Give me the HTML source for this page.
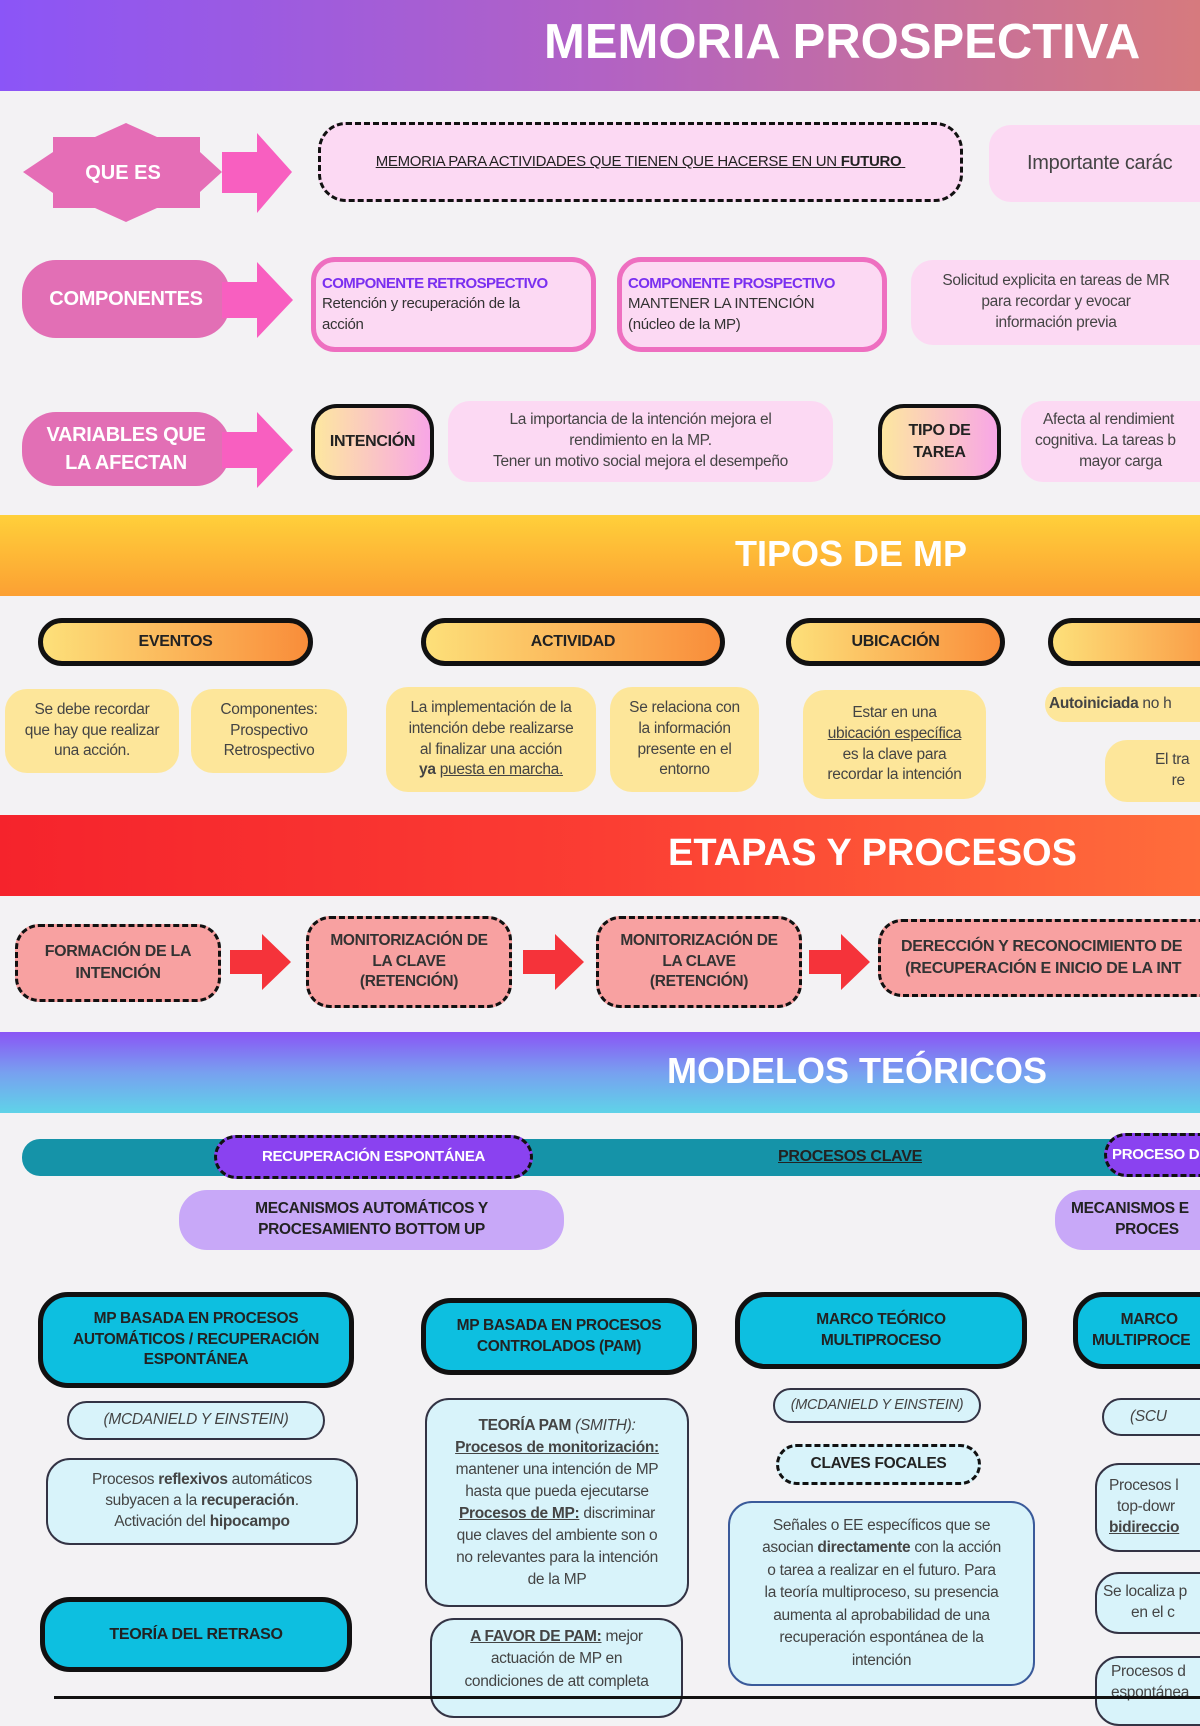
<!DOCTYPE html>
<html><head><meta charset="utf-8">
<style>
*{box-sizing:border-box;margin:0;padding:0}
body{width:1200px;height:1700px;background:#f3f2f4;position:relative;overflow:hidden;font-family:"Liberation Sans",sans-serif;color:#333}
.a{position:absolute}
.b{position:absolute;display:flex;align-items:center;justify-content:center;text-align:center;flex-direction:column;overflow:hidden;line-height:1.35;letter-spacing:-0.3px}
.hd{position:absolute;left:0;width:1200px;color:#fff;font-weight:bold;font-family:"Liberation Sans",sans-serif}
.hd span{position:absolute;white-space:nowrap}
.lp{background:#fcd9f3;border-radius:22px;font-size:16px;color:#444}
.cmp{background:#fcd9f3;border:5px solid #ee6fc0;border-radius:24px;align-items:flex-start;text-align:left;padding:0 6px;font-size:15px;color:#333;white-space:nowrap}
.cmp b{color:#7a2ff0;letter-spacing:-0.6px}
.pk{background:#e26fb5;color:#fff;font-weight:bold;font-size:20px;border-radius:34px}
.yg{background:linear-gradient(to right,#fde7a0,#f8a6e6);border:4px solid #111;border-radius:26px;font-weight:bold;font-size:16px;color:#222}
.yp{background:linear-gradient(to right,#fde07a,#f98d3a);border:5px solid #111;border-radius:26px;font-weight:bold;font-size:16px;color:#222}
.yb{background:#fde69a;border-radius:22px;font-size:15.5px;color:#444}
.st{background:#f8a1a1;border:3px dashed #111;border-radius:24px;font-weight:bold;font-size:16px;color:#333}
.cy{background:#0dbfe0;border:5px solid #111;border-radius:30px;font-weight:bold;font-size:16px;color:#222}
.lc{background:#d8f3fa;border:2px solid #334;border-radius:24px;font-size:15.5px;color:#444}
.u{text-decoration:underline}
</style></head><body>

<div class="hd" style="top:0;height:91px;background:linear-gradient(to right,#8b55f7,#b262c4 50%,#d67a7e)"><span style="left:544px;top:14px;font-size:49px">MEMORIA PROSPECTIVA</span></div>

<svg class="a" style="left:0;top:110px" width="300" height="120" viewBox="0 110 300 120">
<polygon fill="#e56db6" points="23,172 53,152 53,137 95,137 126,123 157,137 200,137 200,152 222,172 200,192 200,208 157,208 126,222 95,208 53,208 53,193"/>
<polygon fill="#f85fc0" points="222,152 257,152 257,133 292,172 257,213 257,193 222,193"/>
<text x="123" y="179" fill="#fff" font-family="Liberation Sans" font-weight="bold" font-size="20" text-anchor="middle">QUE ES</text>
</svg>
<div class="b" style="left:318px;top:122px;width:645px;height:80px;background:#fcd9f3;border:3px dashed #111;border-radius:28px;font-size:15px;color:#222"><span class="u">MEMORIA PARA ACTIVIDADES QUE TIENEN QUE HACERSE EN UN <b>FUTURO</b>&nbsp;</span></div>
<div class="b lp" style="left:989px;top:125px;width:240px;height:77px;align-items:flex-start;padding-left:38px;font-size:20px;white-space:nowrap">Importante carác</div>

<div class="b pk" style="left:22px;top:260px;width:208px;height:78px">COMPONENTES</div>
<svg class="a" style="left:222px;top:262px" width="72" height="76"><polygon fill="#f85fc0" points="0,20 35,20 35,0 71,38 35,76 35,56 0,56"/></svg>
<div class="b cmp" style="left:311px;top:257px;width:285px;height:95px"><div><b>COMPONENTE RETROSPECTIVO</b><br>Retención y recuperación de la<br>acción</div></div>
<div class="b cmp" style="left:617px;top:257px;width:270px;height:95px"><div><b>COMPONENTE PROSPECTIVO</b><br>MANTENER LA INTENCIÓN<br>(núcleo de la MP)</div></div>
<div class="b lp" style="left:911px;top:260px;width:310px;height:85px;padding-right:20px;font-size:15.5px">Solicitud explicita en tareas de MR<br>para recordar y evocar<br>información previa</div>

<div class="b pk" style="left:22px;top:412px;width:208px;height:74px;line-height:1.4">VARIABLES QUE<br>LA AFECTAN</div>
<svg class="a" style="left:222px;top:412px" width="72" height="76"><polygon fill="#f85fc0" points="0,20 35,20 35,0 71,38 35,76 35,56 0,56"/></svg>
<div class="b yg" style="left:311px;top:404px;width:123px;height:76px">INTENCIÓN</div>
<div class="b lp" style="left:448px;top:401px;width:385px;height:81px;font-size:15.5px">La importancia de la intención mejora el<br>rendimiento en la MP.<br>Tener un motivo social mejora el desempeño</div>
<div class="b yg" style="left:878px;top:404px;width:123px;height:76px">TIPO DE<br>TAREA</div>
<div class="b lp" style="left:1021px;top:401px;width:230px;height:81px;font-size:15.5px;align-items:flex-start;padding-left:14px;text-align:left;white-space:nowrap">&nbsp;&nbsp;Afecta al rendimient<br>cognitiva. La tareas b<br>&nbsp;&nbsp;&nbsp;&nbsp;&nbsp;&nbsp;&nbsp;&nbsp;&nbsp;&nbsp;&nbsp;mayor carga</div>

<div class="hd" style="top:515px;height:81px;background:linear-gradient(to bottom,#ffd03a,#fca033)"><span style="left:735px;top:18px;font-size:36px">TIPOS DE MP</span></div>

<div class="b yp" style="left:38px;top:618px;width:275px;height:48px">EVENTOS</div>
<div class="b yp" style="left:421px;top:618px;width:304px;height:48px">ACTIVIDAD</div>
<div class="b yp" style="left:786px;top:618px;width:219px;height:48px">UBICACIÓN</div>
<div class="b yp" style="left:1048px;top:618px;width:200px;height:48px"></div>

<div class="b yb" style="left:5px;top:689px;width:174px;height:84px">Se debe recordar<br>que hay que realizar<br>una acción.</div>
<div class="b yb" style="left:191px;top:689px;width:156px;height:84px">Componentes:<br>Prospectivo<br>Retrospectivo</div>
<div class="b yb" style="left:386px;top:687px;width:210px;height:105px"><div>La implementación de la<br>intención debe realizarse<br>al finalizar una acción<br><b>ya</b> <span class="u">puesta en marcha.</span></div></div>
<div class="b yb" style="left:610px;top:687px;width:149px;height:105px">Se relaciona con<br>la información<br>presente en el<br>entorno</div>
<div class="b yb" style="left:803px;top:690px;width:183px;height:109px"><div>Estar en una<br><span class="u">ubicación específica</span><br>es la clave para<br>recordar la intención</div></div>
<div class="b yb" style="left:1045px;top:687px;width:200px;height:35px;align-items:flex-start;padding-left:4px;white-space:nowrap"><div><b>Autoiniciada</b> no h</div></div>
<div class="b yb" style="left:1105px;top:740px;width:140px;height:62px;align-items:flex-start;padding-left:50px;white-space:nowrap">El tra<br>&nbsp;&nbsp;&nbsp;re</div>

<div class="hd" style="top:815px;height:81px;background:linear-gradient(to right,#f5232c,#fb3d33 50%,#ff6d3b)"><span style="left:668px;top:17px;font-size:38px">ETAPAS Y PROCESOS</span></div>

<div class="b st" style="left:15px;top:924px;width:206px;height:78px">FORMACIÓN DE LA<br>INTENCIÓN</div>
<div class="b st" style="left:306px;top:916px;width:206px;height:92px;font-size:15.5px">MONITORIZACIÓN DE<br>LA CLAVE<br>(RETENCIÓN)</div>
<div class="b st" style="left:596px;top:916px;width:206px;height:92px;font-size:15.5px">MONITORIZACIÓN DE<br>LA CLAVE<br>(RETENCIÓN)</div>
<div class="b st" style="left:878px;top:919px;width:360px;height:78px;align-items:flex-start;padding-left:20px;white-space:nowrap;text-align:left">DERECCIÓN Y RECONOCIMIENTO DE<br>&nbsp;(RECUPERACIÓN E INICIO DE LA INT</div>
<svg class="a" style="left:230px;top:934px" width="62" height="56"><polygon fill="#f5333a" points="0,16 32,16 32,0 61,28 32,56 32,40 0,40"/></svg>
<svg class="a" style="left:523px;top:934px" width="62" height="56"><polygon fill="#f5333a" points="0,16 32,16 32,0 61,28 32,56 32,40 0,40"/></svg>
<svg class="a" style="left:809px;top:934px" width="62" height="56"><polygon fill="#f5333a" points="0,16 32,16 32,0 61,28 32,56 32,40 0,40"/></svg>

<div class="hd" style="top:1032px;height:81px;background:linear-gradient(to bottom,#8a55f5,#78a0f0 50%,#5fd3e8)"><span style="left:667px;top:18px;font-size:36px">MODELOS TEÓRICOS</span></div>

<div class="a" style="left:22px;top:1139px;width:1200px;height:37px;background:#1593a8;border-radius:18px"></div>
<div class="b" style="left:214px;top:1135px;width:319px;height:44px;background:#8a42f0;border:3px dashed #111;border-radius:22px;color:#fff;font-weight:bold;font-size:15px">RECUPERACIÓN ESPONTÁNEA</div>
<div class="b" style="left:760px;top:1140px;width:180px;height:34px;font-weight:bold;font-size:16px;color:#222"><span class="u">PROCESOS CLAVE</span></div>
<div class="b" style="left:1104px;top:1133px;width:140px;height:44px;background:#8a42f0;border:3px dashed #111;border-radius:22px;color:#fff;font-weight:bold;font-size:15px;align-items:flex-start;padding-left:5px;white-space:nowrap">PROCESO D</div>
<div class="b" style="left:179px;top:1190px;width:385px;height:60px;background:#c8a8f8;border-radius:28px;font-weight:bold;font-size:15.5px;color:#222">MECANISMOS AUTOMÁTICOS Y<br>PROCESAMIENTO BOTTOM UP</div>
<div class="b" style="left:1055px;top:1190px;width:200px;height:60px;background:#c8a8f8;border-radius:28px;font-weight:bold;font-size:15.5px;color:#222;align-items:flex-start;padding-left:16px;white-space:nowrap;text-align:left">MECANISMOS E<br>&nbsp;&nbsp;&nbsp;&nbsp;&nbsp;&nbsp;&nbsp;&nbsp;&nbsp;&nbsp;&nbsp;PROCES</div>

<div class="b cy" style="left:38px;top:1292px;width:316px;height:96px;font-size:15.5px">MP BASADA EN PROCESOS<br>AUTOMÁTICOS / RECUPERACIÓN<br>ESPONTÁNEA</div>
<div class="b cy" style="left:421px;top:1298px;width:276px;height:77px;font-size:15.5px">MP BASADA EN PROCESOS<br>CONTROLADOS (PAM)</div>
<div class="b cy" style="left:735px;top:1292px;width:292px;height:77px;font-size:15.5px">MARCO TEÓRICO<br>MULTIPROCESO</div>
<div class="b cy" style="left:1073px;top:1292px;width:200px;height:77px;align-items:flex-start;padding-left:14px;white-space:nowrap;font-size:15.5px">&nbsp;&nbsp;&nbsp;&nbsp;MARCO<br>MULTIPROCE</div>

<div class="b lc" style="left:67px;top:1401px;width:258px;height:39px;font-style:italic">(MCDANIELD Y EINSTEIN)</div>
<div class="b lc" style="left:46px;top:1458px;width:312px;height:87px"><div>Procesos <b>reflexivos</b> automáticos<br>subyacen a la <b>recuperación</b>.<br>Activación del <b>hipocampo</b></div></div>
<div class="b cy" style="left:40px;top:1597px;width:312px;height:75px">TEORÍA DEL RETRASO</div>

<div class="b lc" style="left:425px;top:1398px;width:264px;height:209px;line-height:1.42"><div><b>TEORÍA PAM</b> <i>(SMITH):</i><br><b class="u">Procesos de monitorización:</b><br>mantener una intención de MP<br>hasta que pueda ejecutarse<br><b class="u">Procesos de MP:</b> discriminar<br>que claves del ambiente son o<br>no relevantes para la intención<br>de la MP</div></div>
<div class="b lc" style="left:430px;top:1618px;width:253px;height:100px;justify-content:flex-start;padding-top:6px;line-height:1.45"><div><b class="u">A FAVOR DE PAM:</b> mejor<br>actuación de MP en<br>condiciones de att completa</div></div>

<div class="b lc" style="left:773px;top:1388px;width:208px;height:35px;font-style:italic;font-size:14.5px">(MCDANIELD Y EINSTEIN)</div>
<div class="b lc" style="left:776px;top:1444px;width:205px;height:41px;border:3px dashed #111;font-weight:bold;color:#222">CLAVES FOCALES</div>
<div class="b lc" style="left:728px;top:1501px;width:307px;height:185px;border-color:#3a5a9a;line-height:1.45"><div>Señales o EE específicos que se<br>asocian <b>directamente</b> con la acción<br>o tarea a realizar en el futuro. Para<br>la teoría multiproceso, su presencia<br>aumenta al aprobabilidad de una<br>recuperación espontánea de la<br>intención</div></div>

<div class="b lc" style="left:1102px;top:1398px;width:140px;height:38px;font-style:italic;align-items:flex-start;padding-left:26px">(SCU</div>
<div class="b lc" style="left:1095px;top:1463px;width:150px;height:89px;align-items:flex-start;padding-left:12px;white-space:nowrap;text-align:left"><div>Procesos l<br>&nbsp;&nbsp;top-dowr<br><b class="u">bidireccio</b></div></div>
<div class="b lc" style="left:1095px;top:1572px;width:150px;height:62px;align-items:flex-start;padding-left:6px;white-space:nowrap;text-align:left">Se localiza p<br>&nbsp;&nbsp;&nbsp;&nbsp;&nbsp;&nbsp;&nbsp;en el c</div>
<div class="b lc" style="left:1095px;top:1656px;width:150px;height:70px;justify-content:flex-start;align-items:flex-start;padding:4px 0 0 14px;white-space:nowrap;text-align:left">Procesos d<br>espontánea</div>

<div class="a" style="left:54px;top:1696px;width:1146px;height:3px;background:#111"></div>
</body></html>
